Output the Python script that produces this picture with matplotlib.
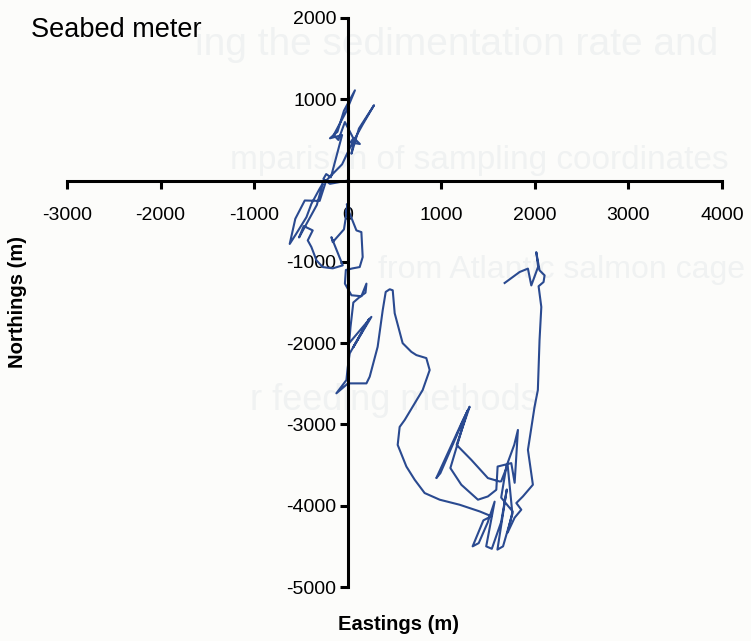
import matplotlib
matplotlib.use("Agg")
import matplotlib.pyplot as plt

plt.rcParams['font.family'] = ['Liberation Sans', 'DejaVu Sans']

# Progressive vector path of the seabed current meter (metres from deployment point)
eastings = [
    0, -190, -260, -230, -180, -120, -60, -190, -110, -40, 77, -20, -150, -100, -30,
    60, 30, 130, 70, 40, 120, 281, 160, 30, -60, -230, -300, -459, -560, -620,
    -548, -441, -388, -300, -267, -330, -520, -470, -374, -427, -388, -334, -267, -160, -53, -174, -160,
    -40, 0, -20, 10, 20, -10, 0, 93, 146, 160, 128, 53, -20,
    -30, 10, 40, 146, 200, 190, 130, 60, 30, 15, 253, 60, 230, 21, 0, -14, -121, 3,
    200, 235, 320, 374, 406, 449, 481, 502, 573, 587, 680, 734, 840, 876, 801, 609,
    555, 534, 627, 716, 822, 983, 1196, 1410, 1535,
    1450, 1335, 1400, 1495, 1570, 1480, 1540, 1640, 1700, 1600, 1660, 1760, 1709,
    1640, 1623, 1498, 1321, 1164, 1303, 1230, 947, 990, 1280, 1097, 1214, 1392, 1498,
    1588, 1602, 1748, 1784, 1819, 1780, 1695, 1640, 1762, 1709, 1784, 1855, 1802,
    1872, 1979, 1926, 1997, 2032, 2050, 2069, 2040, 2093, 2104, 2050, 2015, 2035,
    1962, 1926, 1837, 1677,
]
northings = [
    0, -40, 20, 80, 40, 300, 560, 520, 600, 860, 1110, 840, 560, 500, 720,
    520, 470, 450, 520, 330, 640, 927, 690, 420, 200, 0, -250, -245, -470, -780,
    -650, -450, -286, -100, -37, -300, -700, -560, -613, -736, -818, -982, -1064, -1080, -1043, -696, -757,
    -600, -300, -380, -420, -340, -290, -344, -613, -634, -941, -1064, -1080, -1100,
    -1268, -1350, -1411, -1423, -1268, -1380, -1430, -1500, -1800, -2000, -1677, -2050, -1700, -2127, -2300, -2454, -2617, -2495,
    -2495, -2413, -2045, -1595, -1370, -1337, -1350, -1632, -1939, -2000, -2107, -2147, -2184, -2331, -2577, -2945,
    -3031, -3252, -3518, -3681, -3844, -3926, -3988, -4070, -4129,
    -4180, -4500, -4460, -4209, -3950, -4500, -4530, -4200, -3800, -4540, -4500, -4100, -3497,
    -3700, -3702, -3660, -3436, -3252, -2782, -2950, -3660, -3600, -2830, -3537, -3742, -3926, -3886,
    -3804, -3518, -3476, -3718, -3068, -3250, -3518, -3900, -4070, -4331, -4147, -4049, -3967,
    -3886, -3742, -3313, -2782, -2577, -1963, -1555, -1300, -1248, -1166, -1104, -880, -1060,
    -1290, -1083, -1125, -1260,
]

x_ticks = [-3000, -2000, -1000, 0, 1000, 2000, 3000, 4000]
y_ticks = [2000, 1000, -1000, -2000, -3000, -4000, -5000]

W, H = 751, 641
bg = '#fcfcfa'
fig = plt.figure(figsize=(W / 100, H / 100), dpi=100, facecolor=bg)

# faint slide text behind the chart
ghost = '#f0f2f2'
ghost_lines = [
    (195, 45, "ing the sedimentation rate and", 28),
    (230, 160, "mparison of sampling coordinates", 24),
    (378, 270, "from Atlantic salmon cage", 23),
    (250, 400, "r feeding methods", 26),
]
for gx, gy, gt, gs in ghost_lines:
    fig.text(gx / W, 1 - gy / H, gt, fontsize=gs, color=ghost, ha='left',
             va='center', zorder=-1)

left, right, top, bottom = 67, 722, 18, 587
ax = fig.add_axes([left / W, 1 - bottom / H, (right - left) / W, (bottom - top) / H])
ax.set_facecolor('none')
ax.set_zorder(1)

ax.plot(eastings, northings, color='#2a4a90', lw=1.5, solid_joinstyle='round', zorder=2)

ax.set_xlim(-3000, 4000)
ax.set_ylim(-5000, 2000)
ax.spines['left'].set_position(('data', 0))
ax.spines['bottom'].set_position(('data', 0))
ax.spines['top'].set_visible(False)
ax.spines['right'].set_visible(False)
for s in ('left', 'bottom'):
    ax.spines[s].set_linewidth(2.2)
    ax.spines[s].set_color('black')
    ax.spines[s].set_zorder(3)

ax.set_xticks(x_ticks)
ax.set_xticklabels([str(v) for v in x_ticks])
ax.set_yticks(y_ticks)
ax.set_yticklabels([str(v) for v in y_ticks])
ax.tick_params(axis='x', direction='out', length=6, width=2.2, pad=13, labelsize=14)
ax.tick_params(axis='y', direction='out', length=6, width=2.2, pad=2, labelsize=14)

fig.text(31 / W, 1 - 30 / H, "Seabed meter", fontsize=19.5, ha='left', va='center')
fig.text(398 / W, 1 - 625 / H, "Eastings (m)", fontsize=14.5, fontweight='bold',
         ha='center', va='center')
fig.text(18 / W, 1 - 302 / H, "Northings (m)", fontsize=14.5, fontweight='bold',
         ha='center', va='center', rotation=90)

fig.savefig("out.png", dpi=100, facecolor=bg)
